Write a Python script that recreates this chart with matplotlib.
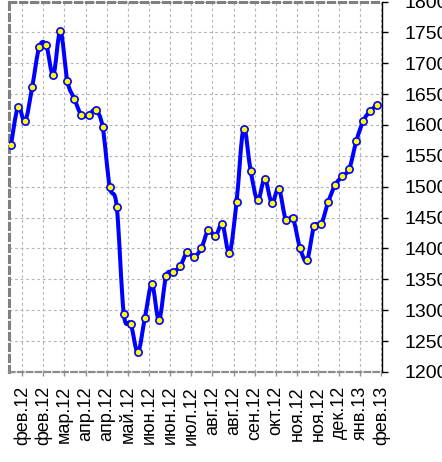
import matplotlib
matplotlib.use('Agg')
import matplotlib.pyplot as plt
import numpy as np
from matplotlib.path import Path
from matplotlib.patches import PathPatch

# weekly values (days from first point)
days = np.arange(53) * 7
values = [1568, 1629, 1606, 1661, 1726, 1729, 1681, 1752, 1671, 1642,
          1616, 1616, 1624, 1597, 1500, 1468, 1294, 1278, 1232, 1288,
          1342, 1284, 1355, 1362, 1371, 1394, 1387, 1400, 1430, 1420,
          1439, 1393, 1475, 1594, 1526, 1478, 1513, 1474, 1497, 1446,
          1449, 1401, 1381, 1436, 1439, 1475, 1503, 1517, 1529, 1574,
          1607, 1623, 1633]

tick_days = np.arange(18) * 21 + 11
tick_labels = ['фев.12', 'фев.12', 'мар.12', 'апр.12', 'апр.12', 'май.12',
               'июн.12', 'июн.12', 'июл.12', 'авг.12', 'авг.12', 'сен.12',
               'окт.12', 'ноя.12', 'ноя.12', 'дек.12', 'янв.13', 'фев.13']


def smooth_path(x, y):
    # Catmull-Rom curve through the points, as cubic Bezier segments
    pts = np.column_stack([x, y]).astype(float)
    n = len(pts)
    verts = [pts[0]]
    codes = [Path.MOVETO]
    for i in range(n - 1):
        p0 = pts[max(i - 1, 0)]
        p1 = pts[i]
        p2 = pts[i + 1]
        p3 = pts[min(i + 2, n - 1)]
        verts += [p1 + (p2 - p0) / 6, p2 - (p3 - p1) / 6, p2]
        codes += [Path.CURVE4] * 3
    return Path(verts, codes)


plt.rcParams['font.family'] = ['Liberation Sans', 'DejaVu Sans']

fig = plt.figure(figsize=(4.42, 4.62), dpi=100)
ax = fig.add_axes([9 / 442, 1 - 372 / 462, 373 / 442, 370.5 / 462])

ax.add_patch(PathPatch(smooth_path(days, values), fill=False,
                       edgecolor='#0000ff', lw=2.9, capstyle='round',
                       joinstyle='round', zorder=3))
ax.plot(days, values, linestyle='none', marker='o', markersize=5.2,
        markerfacecolor='#ffff00', markeredgecolor='#0000ff',
        markeredgewidth=1.2, zorder=4)

ax.set_xlim(-2, 368.5)
ax.set_ylim(1200, 1800)
ax.set_yticks(np.arange(1200, 1801, 50))
ax.set_xticks(tick_days)
ax.set_xticklabels(tick_labels, rotation=90, ha='center', va='top')

ax.yaxis.tick_right()
ax.tick_params(axis='y', labelsize=14, length=4, width=1, color='black',
               pad=12, direction='out')
ax.tick_params(axis='x', labelsize=13, length=3, width=1, color='#909090',
               pad=7, direction='out')

ax.grid(True, color='#b4b4b4', linestyle=(0, (2.5, 2.5)), linewidth=0.8)
ax.set_axisbelow(True)

for side in ['left', 'top']:
    ax.spines[side].set_color('#808080')
    ax.spines[side].set_linewidth(2.2)
    ax.spines[side].set_linestyle((0, (2, 1.6)))
ax.spines['bottom'].set_color('#8c8c8c')
ax.spines['bottom'].set_linewidth(1.6)
ax.spines['bottom'].set_linestyle((0, (2.5, 1.5)))
ax.spines['right'].set_color('black')
ax.spines['right'].set_linewidth(1.0)

plt.savefig('out.png', dpi=100)
